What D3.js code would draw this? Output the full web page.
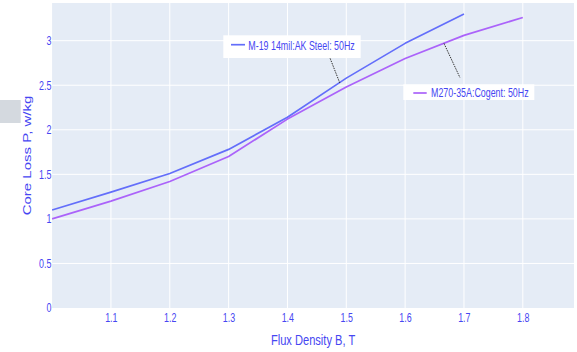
<!DOCTYPE html>
<html>
<head>
<meta charset="utf-8">
<script src="https://cdn.jsdelivr.net/npm/d3@7"></script>
<style>
  body { margin: 0; background: #fff; }
  svg { display: block; }
  text { font-family: "Liberation Sans", Arial, sans-serif; }
</style>
</head>
<body>
<div id="viz_container"></div>
<script>
// data
const fluxDensity = [1.0, 1.1, 1.2, 1.3, 1.4, 1.5, 1.6, 1.7, 1.8];
const akSteelLoss = [1.10, 1.30, 1.51, 1.78, 2.14, 2.58, 2.97, 3.30];
const cogentLoss = [1.00, 1.20, 1.42, 1.70, 2.12, 2.48, 2.80, 3.06, 3.26];
const seriesNames = ["M-19 14mil:AK Steel: 50Hz", "M270-35A:Cogent: 50Hz"];
const xTicks = [1.1, 1.2, 1.3, 1.4, 1.5, 1.6, 1.7, 1.8];
const yTicks = [0, 0.5, 1, 1.5, 2, 2.5, 3];

// the picture is squeezed sideways, so draw wide and squash with the viewBox
const squeeze = 0.74;
const width = 577, height = 352;
const vbWidth = width / squeeze;

const plotLeft = 52.1 / squeeze, plotRight = 574 / squeeze;
const plotTop = 3, plotBottom = 308;

const textColor = "#4646f2";
const colors = ["#636efa", "#ab63fa"];

const svg = d3.select("#viz_container")
    .append("svg")
    .attr("width", width)
    .attr("height", height)
    .attr("viewBox", `0 0 ${vbWidth} ${height}`)
    .attr("preserveAspectRatio", "none");

const x = d3.scaleLinear().domain([1.0, 1.887]).range([plotLeft, plotRight]);
const y = d3.scaleLinear().domain([0, 3.423]).range([plotBottom, plotTop]);

// plot background
svg.append("rect")
    .attr("x", plotLeft)
    .attr("y", plotTop)
    .attr("width", plotRight - plotLeft)
    .attr("height", plotBottom - plotTop)
    .attr("fill", "#e5ecf6");

// grid
svg.append("g")
    .selectAll("line")
    .data(xTicks)
    .join("line")
    .attr("x1", d => x(d)).attr("x2", d => x(d))
    .attr("y1", plotTop).attr("y2", plotBottom)
    .attr("stroke", "#fff").attr("stroke-width", 1)
    .attr("vector-effect", "non-scaling-stroke");

svg.append("g")
    .selectAll("line")
    .data(yTicks.filter(d => d > 0))
    .join("line")
    .attr("x1", plotLeft).attr("x2", plotRight)
    .attr("y1", d => y(d)).attr("y2", d => y(d))
    .attr("stroke", "#fff").attr("stroke-width", 1)
    .attr("vector-effect", "non-scaling-stroke");

// axes (labels only)
svg.append("g")
    .attr("transform", `translate(0, ${plotBottom})`)
    .call(d3.axisBottom(x).tickValues(xTicks).tickFormat(d3.format(".1f")).tickSize(0).tickPadding(5))
    .call(g => g.select(".domain").remove())
    .call(g => g.selectAll("text")
        .attr("fill", textColor)
        .attr("font-size", 12)
        .attr("font-family", "Liberation Sans, Arial, sans-serif"));

svg.append("g")
    .attr("transform", `translate(${plotLeft}, 0)`)
    .call(d3.axisLeft(y).tickValues(yTicks).tickFormat(d => d3.format("")(d)).tickSize(0).tickPadding(1))
    .call(g => g.select(".domain").remove())
    .call(g => g.selectAll("text")
        .attr("fill", textColor)
        .attr("font-size", 12)
        .attr("font-family", "Liberation Sans, Arial, sans-serif"));

// axis titles
svg.append("text")
    .attr("x", (plotLeft + plotRight) / 2)
    .attr("y", 345)
    .attr("text-anchor", "middle")
    .attr("font-size", 15)
    .attr("fill", textColor)
    .text("Flux Density B, T");

svg.append("text")
    .attr("transform", `translate(${31.5 / squeeze}, ${(plotTop + plotBottom) / 2}) rotate(-90)`)
    .attr("text-anchor", "middle")
    .attr("font-size", 15)
    .attr("fill", textColor)
    .text("Core Loss P, w/kg");

// grey block at the left edge
svg.append("rect")
    .attr("x", 0).attr("y", 100)
    .attr("width", 20.7 / squeeze).attr("height", 23)
    .attr("fill", "#d4d9df");

// lines
const line = d3.line()
    .x(d => x(d[0]))
    .y(d => y(d[1]));

const series = [
    akSteelLoss.map((v, i) => [fluxDensity[i], v]),
    cogentLoss.map((v, i) => [fluxDensity[i], v])
];

svg.append("g")
    .selectAll("path")
    .data(series)
    .join("path")
    .attr("d", line)
    .attr("fill", "none")
    .attr("stroke", (d, i) => colors[i])
    .attr("stroke-width", 1.7)
    .attr("stroke-linejoin", "round")
    .attr("vector-effect", "non-scaling-stroke");

// label boxes with pointer lines
const labels = [
    { at: [1.489, 2.525], tail: [329.3, 56.3], box: [223.3, 35.3, 137.4, 22.7], line: [231, 245, 44.7], text: [248.3, 49.7] },
    { at: [1.666, 2.97], tail: [460, 77.7], box: [403.3, 84.3, 131, 15.7], line: [413.3, 426.7, 93], text: [431, 97.5] }
];

labels.forEach((l, i) => {
    svg.append("line")
        .attr("x1", x(l.at[0])).attr("y1", y(l.at[1]))
        .attr("x2", l.tail[0] / squeeze).attr("y2", l.tail[1])
        .attr("stroke", "#333")
        .attr("stroke-width", 1)
        .attr("stroke-dasharray", "1.5,1")
        .attr("vector-effect", "non-scaling-stroke");
    svg.append("rect")
        .attr("x", l.box[0] / squeeze).attr("y", l.box[1])
        .attr("width", l.box[2] / squeeze).attr("height", l.box[3])
        .attr("fill", "#fff");
    svg.append("line")
        .attr("x1", l.line[0] / squeeze).attr("x2", l.line[1] / squeeze)
        .attr("y1", l.line[2]).attr("y2", l.line[2])
        .attr("stroke", colors[i]).attr("stroke-width", 1.7)
        .attr("vector-effect", "non-scaling-stroke");
    svg.append("text")
        .attr("x", l.text[0] / squeeze).attr("y", l.text[1])
        .attr("font-size", 12)
        .attr("fill", textColor)
        .text(seriesNames[i]);
});
</script>
</body>
</html>
